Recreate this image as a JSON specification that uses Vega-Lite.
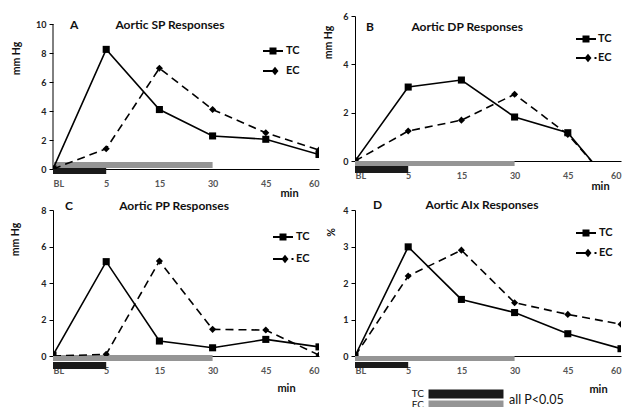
{
  "$schema": "https://vega.github.io/schema/vega-lite/v6.json",
  "padding": {"left": 10, "top": 12, "right": 0, "bottom": 0},
  "background": "white",
  "datasets": {
    "bars": [
      {"t": 0, "group": "TC"}, {"t": 1, "group": "TC"},
      {"t": 0, "group": "EC"}, {"t": 3, "group": "EC"}
    ],
    "A": [
      {"t": 0, "series": "TC", "value": 0}, {"t": 1, "series": "TC", "value": 8.25}, {"t": 2, "series": "TC", "value": 4.1},
      {"t": 3, "series": "TC", "value": 2.28}, {"t": 4, "series": "TC", "value": 2.05}, {"t": 5, "series": "TC", "value": 1.0},
      {"t": 0, "series": "EC", "value": 0}, {"t": 1, "series": "EC", "value": 1.4}, {"t": 2, "series": "EC", "value": 6.95},
      {"t": 3, "series": "EC", "value": 4.1}, {"t": 4, "series": "EC", "value": 2.5}, {"t": 5, "series": "EC", "value": 1.3}
    ],
    "B": [
      {"t": 0, "series": "TC", "value": 0}, {"t": 1, "series": "TC", "value": 3.06}, {"t": 2, "series": "TC", "value": 3.35},
      {"t": 3, "series": "TC", "value": 1.82}, {"t": 4, "series": "TC", "value": 1.17}, {"t": 5, "series": "TC", "value": -1.45},
      {"t": 0, "series": "EC", "value": 0}, {"t": 1, "series": "EC", "value": 1.24}, {"t": 2, "series": "EC", "value": 1.69},
      {"t": 3, "series": "EC", "value": 2.76}, {"t": 4, "series": "EC", "value": 1.1}, {"t": 5, "series": "EC", "value": -1.4}
    ],
    "C": [
      {"t": 0, "series": "TC", "value": 0.05}, {"t": 1, "series": "TC", "value": 5.17}, {"t": 2, "series": "TC", "value": 0.82},
      {"t": 3, "series": "TC", "value": 0.45}, {"t": 4, "series": "TC", "value": 0.91}, {"t": 5, "series": "TC", "value": 0.5},
      {"t": 0, "series": "EC", "value": 0}, {"t": 1, "series": "EC", "value": 0.09}, {"t": 2, "series": "EC", "value": 5.2},
      {"t": 3, "series": "EC", "value": 1.46}, {"t": 4, "series": "EC", "value": 1.42}, {"t": 5, "series": "EC", "value": 0.05}
    ],
    "D": [
      {"t": 0, "series": "TC", "value": 0}, {"t": 1, "series": "TC", "value": 2.99}, {"t": 2, "series": "TC", "value": 1.55},
      {"t": 3, "series": "TC", "value": 1.19}, {"t": 4, "series": "TC", "value": 0.61}, {"t": 5, "series": "TC", "value": 0.2},
      {"t": 0, "series": "EC", "value": 0}, {"t": 1, "series": "EC", "value": 2.19}, {"t": 2, "series": "EC", "value": 2.9},
      {"t": 3, "series": "EC", "value": 1.46}, {"t": 4, "series": "EC", "value": 1.14}, {"t": 5, "series": "EC", "value": 0.87}
    ]
  },
  "columns": 2,
  "spacing": {"row": 41, "column": 36},
  "bounds": "flush",
  "resolve": {"scale": {"x": "independent", "y": "independent", "shape": "independent", "fill": "independent"}, "legend": {"shape": "independent", "fill": "independent"}, "axis": {"x": "independent", "y": "independent"}},
  "concat": [
    {
      "width": 266, "height": 153,
      "title": {"text": "A\u00a0\u00a0\u00a0\u00a0\u00a0\u00a0\u00a0\u00a0\u00a0\u00a0\u00a0\u00a0\u00a0Aortic SP Responses", "dx": 17, "offset": -16},
      "encoding": {
        "x": {"field": "t", "type": "quantitative", "scale": {"domain": [0, 5], "nice": false, "zero": false},
              "axis": {"title": "min", "titleX": 236, "titleY": 24, "values": [0, 1, 2, 3, 4, 5], "labelExpr": "['BL','5','15','30','45','60'][datum.value]",
                       "encode": {"labels": {"update": {"dx": {"signal": "datum.value === 0 ? 7 : 0"}}}}}}
      },
      "layer": [
        {"data": {"name": "bars"}, "mark": {"type": "rule", "color": "#000", "strokeWidth": 1},
         "transform": [{"filter": "datum.group === 'TC' && datum.t === 0"}],
         "encoding": {"x": {"datum": 0, "type": "quantitative"}, "y": {"datum": 0, "type": "quantitative", "scale": {"domain": [0, 10.552], "nice": false}, "axis": {"title": "mm Hg", "values": [0, 2, 4, 6, 8, 10], "domain": false, "titleX": -37, "titleY": 42}}, "y2": {"datum": 10}}},
        {"data": {"name": "bars"}, "transform": [{"filter": "datum.group === 'EC'"}],
         "mark": {"type": "line", "color": "#959595", "strokeWidth": 6, "strokeCap": "butt"},
         "encoding": {"y": {"datum": 0.276, "type": "quantitative", "scale": {"domain": [0, 10.552], "nice": false}, "axis": {"title": "mm Hg", "values": [0, 2, 4, 6, 8, 10], "domain": false, "titleX": -37, "titleY": 42}}}},
        {"data": {"name": "bars"}, "transform": [{"filter": "datum.group === 'TC'"}],
         "mark": {"type": "line", "color": "#1a1a1a", "strokeWidth": 6, "strokeCap": "butt"},
         "encoding": {"y": {"datum": -0.138, "type": "quantitative", "scale": {"domain": [0, 10.552], "nice": false}, "axis": {"title": "mm Hg", "values": [0, 2, 4, 6, 8, 10], "domain": false, "titleX": -37, "titleY": 42}}}},
        {"data": {"name": "A"}, "transform": [{"filter": "datum.series === 'TC'"}], "mark": {"type": "line", "color": "#000", "strokeWidth": 1.6, "clip": true},
         "encoding": {"y": {"field": "value", "type": "quantitative", "scale": {"domain": [0, 10.552], "nice": false}, "axis": {"title": "mm Hg", "values": [0, 2, 4, 6, 8, 10], "domain": false, "titleX": -37, "titleY": 42}}}},
        {"data": {"name": "A"}, "transform": [{"filter": "datum.series === 'EC'"}], "mark": {"type": "line", "color": "#000", "strokeWidth": 1.6, "strokeDash": [8, 5], "clip": true},
         "encoding": {"y": {"field": "value", "type": "quantitative", "scale": {"domain": [0, 10.552], "nice": false}, "axis": {"title": "mm Hg", "values": [0, 2, 4, 6, 8, 10], "domain": false, "titleX": -37, "titleY": 42}}}},
        {"data": {"name": "A"}, "transform": [{"filter": "datum.series === 'TC'"}], "mark": {"type": "point", "shape": "square", "filled": true, "color": "#000", "opacity": 1, "size": 50, "clip": true},
         "encoding": {"y": {"field": "value", "type": "quantitative", "scale": {"domain": [0, 10.552], "nice": false}, "axis": {"title": "mm Hg", "values": [0, 2, 4, 6, 8, 10], "domain": false, "titleX": -37, "titleY": 42}}}},
        {"data": {"name": "A"}, "transform": [{"filter": "datum.series === 'EC'"}], "mark": {"type": "point", "shape": "diamond", "filled": true, "color": "#000", "opacity": 1, "size": 50, "clip": true},
         "encoding": {"y": {"field": "value", "type": "quantitative", "scale": {"domain": [0, 10.552], "nice": false}, "axis": {"title": "mm Hg", "values": [0, 2, 4, 6, 8, 10], "domain": false, "titleX": -37, "titleY": 42}}}},
        {"data": {"name": "A"}, "mark": {"type": "point", "filled": true, "color": "#000", "opacity": 0},
         "encoding": {"y": {"field": "value", "type": "quantitative", "scale": {"domain": [0, 10.552], "nice": false}, "axis": {"title": "mm Hg", "values": [0, 2, 4, 6, 8, 10], "domain": false, "titleX": -37, "titleY": 42}},
           "shape": {"field": "series", "type": "nominal", "scale": {"domain": ["EC", "TC"], "range": ["M-1,-0.1H0.35V0.1H-1Z M0.2,-0.42L0.55,0L0.2,0.42L-0.15,0Z", "M-1,-0.1H1V0.1H-1Z M-0.35,-0.35H0.35V0.35H-0.35Z"]},
           "legend": {"orient": "none", "legendX": 210, "legendY": 25, "values": ["TC", "EC"], "title": null, "symbolSize": 400, "symbolOpacity": 1, "symbolFillColor": "#000", "symbolStrokeWidth": 0, "rowPadding": 5, "padding": 0,
             "labelFont": "Lato", "labelFontSize": 11, "labelFontWeight": "bold", "labelColor": "#111", "labelOffset": 3}}}}
      ]
    },
    {
      "width": 266, "height": 145,
      "title": {"text": "B\u00a0\u00a0\u00a0\u00a0\u00a0\u00a0\u00a0\u00a0\u00a0\u00a0\u00a0\u00a0\u00a0Aortic DP Responses", "dx": 11, "offset": -22},
      "encoding": {
        "x": {"field": "t", "type": "quantitative", "scale": {"domain": [0, 5], "nice": false, "zero": false},
              "axis": {"title": "min", "titleX": 245, "titleY": 25, "values": [0, 1, 2, 3, 4, 5], "labelExpr": "['BL','5','15','30','45','60'][datum.value]",
                       "encode": {"labels": {"update": {"dx": {"signal": "datum.value === 0 ? 7 : (datum.value === 5 ? 4 : 0)"}}}}}}
      },
      "layer": [
        {"data": {"name": "bars"}, "transform": [{"filter": "datum.group === 'EC'"}],
         "mark": {"type": "line", "color": "#959595", "strokeWidth": 5, "strokeCap": "butt"},
         "encoding": {"y": {"datum": -0.103, "type": "quantitative", "scale": {"domain": [0, 6], "nice": false}, "axis": {"title": "mm Hg", "values": [0, 2, 4, 6], "titleX": -27, "titleY": 26}}}},
        {"data": {"name": "bars"}, "transform": [{"filter": "datum.group === 'TC'"}],
         "mark": {"type": "line", "color": "#1a1a1a", "strokeWidth": 7, "strokeCap": "butt"},
         "encoding": {"y": {"datum": -0.352, "type": "quantitative", "scale": {"domain": [0, 6], "nice": false}, "axis": {"title": "mm Hg", "values": [0, 2, 4, 6], "titleX": -27, "titleY": 26}}}},
        {"data": {"name": "B"}, "transform": [{"filter": "datum.series === 'TC'"}], "mark": {"type": "line", "color": "#000", "strokeWidth": 1.6, "clip": true},
         "encoding": {"y": {"field": "value", "type": "quantitative", "scale": {"domain": [0, 6], "nice": false}, "axis": {"title": "mm Hg", "values": [0, 2, 4, 6], "titleX": -27, "titleY": 26}}}},
        {"data": {"name": "B"}, "transform": [{"filter": "datum.series === 'EC'"}], "mark": {"type": "line", "color": "#000", "strokeWidth": 1.6, "strokeDash": [8, 5], "clip": true},
         "encoding": {"y": {"field": "value", "type": "quantitative", "scale": {"domain": [0, 6], "nice": false}, "axis": {"title": "mm Hg", "values": [0, 2, 4, 6], "titleX": -27, "titleY": 26}}}},
        {"data": {"name": "B"}, "transform": [{"filter": "datum.series === 'TC'"}], "mark": {"type": "point", "shape": "square", "filled": true, "color": "#000", "opacity": 1, "size": 50, "clip": true},
         "encoding": {"y": {"field": "value", "type": "quantitative", "scale": {"domain": [0, 6], "nice": false}, "axis": {"title": "mm Hg", "values": [0, 2, 4, 6], "titleX": -27, "titleY": 26}}}},
        {"data": {"name": "B"}, "transform": [{"filter": "datum.series === 'EC'"}], "mark": {"type": "point", "shape": "diamond", "filled": true, "color": "#000", "opacity": 1, "size": 50, "clip": true},
         "encoding": {"y": {"field": "value", "type": "quantitative", "scale": {"domain": [0, 6], "nice": false}, "axis": {"title": "mm Hg", "values": [0, 2, 4, 6], "titleX": -27, "titleY": 26}}}},
        {"data": {"name": "B"}, "mark": {"type": "point", "filled": true, "color": "#000", "opacity": 0, "clip": true},
         "encoding": {"y": {"field": "value", "type": "quantitative", "scale": {"domain": [0, 6], "nice": false}, "axis": {"title": "mm Hg", "values": [0, 2, 4, 6], "titleX": -27, "titleY": 26}},
           "shape": {"field": "series", "type": "nominal", "scale": {"domain": ["EC", "TC"], "range": ["M-1,-0.1H0.35V0.1H-1Z M0.2,-0.42L0.55,0L0.2,0.42L-0.15,0Z M0.85,-0.1H1.05V0.1H0.85Z", "M-1,-0.1H1V0.1H-1Z M-0.35,-0.35H0.35V0.35H-0.35Z"]},
           "legend": {"orient": "none", "legendX": 221, "legendY": 13, "values": ["TC", "EC"], "title": null, "symbolSize": 400, "symbolOpacity": 1, "symbolFillColor": "#000", "symbolStrokeWidth": 0, "rowPadding": 4, "padding": 0,
             "labelFont": "Lato", "labelFontSize": 11, "labelFontWeight": "bold", "labelColor": "#111", "labelOffset": 2}}}}
      ]
    },
    {
      "width": 266, "height": 146,
      "title": {"text": "C\u00a0\u00a0\u00a0\u00a0\u00a0\u00a0\u00a0\u00a0\u00a0\u00a0\u00a0\u00a0\u00a0\u00a0\u00a0\u00a0Aortic PP Responses", "dx": 12, "offset": -7},
      "encoding": {
        "x": {"field": "t", "type": "quantitative", "scale": {"domain": [0, 5], "nice": false, "zero": false},
              "axis": {"title": "min", "titleX": 233, "titleY": 32, "values": [0, 1, 2, 3, 4, 5], "labelExpr": "['BL','5','15','30','45','60'][datum.value]",
                       "encode": {"labels": {"update": {"dx": {"signal": "datum.value === 0 ? 8 : 0"}}}}}}
      },
      "layer": [
        {"data": {"name": "bars"}, "transform": [{"filter": "datum.group === 'EC'"}],
         "mark": {"type": "line", "color": "#959595", "strokeWidth": 6, "strokeCap": "butt"},
         "encoding": {"y": {"datum": -0.11, "type": "quantitative", "scale": {"domain": [0, 8], "nice": false}, "axis": {"title": "mm Hg", "values": [0, 2, 4, 6, 8], "titleX": -38, "titleY": 29}}}},
        {"data": {"name": "bars"}, "transform": [{"filter": "datum.group === 'TC'"}],
         "mark": {"type": "line", "color": "#1a1a1a", "strokeWidth": 7, "strokeCap": "butt"},
         "encoding": {"y": {"datum": -0.52, "type": "quantitative", "scale": {"domain": [0, 8], "nice": false}, "axis": {"title": "mm Hg", "values": [0, 2, 4, 6, 8], "titleX": -38, "titleY": 29}}}},
        {"data": {"name": "C"}, "transform": [{"filter": "datum.series === 'TC'"}], "mark": {"type": "line", "color": "#000", "strokeWidth": 1.6, "clip": true},
         "encoding": {"y": {"field": "value", "type": "quantitative", "scale": {"domain": [0, 8], "nice": false}, "axis": {"title": "mm Hg", "values": [0, 2, 4, 6, 8], "titleX": -38, "titleY": 29}}}},
        {"data": {"name": "C"}, "transform": [{"filter": "datum.series === 'EC'"}], "mark": {"type": "line", "color": "#000", "strokeWidth": 1.6, "strokeDash": [8, 5], "clip": true},
         "encoding": {"y": {"field": "value", "type": "quantitative", "scale": {"domain": [0, 8], "nice": false}, "axis": {"title": "mm Hg", "values": [0, 2, 4, 6, 8], "titleX": -38, "titleY": 29}}}},
        {"data": {"name": "C"}, "transform": [{"filter": "datum.series === 'TC'"}], "mark": {"type": "point", "shape": "square", "filled": true, "color": "#000", "opacity": 1, "size": 50, "clip": true},
         "encoding": {"y": {"field": "value", "type": "quantitative", "scale": {"domain": [0, 8], "nice": false}, "axis": {"title": "mm Hg", "values": [0, 2, 4, 6, 8], "titleX": -38, "titleY": 29}}}},
        {"data": {"name": "C"}, "transform": [{"filter": "datum.series === 'EC'"}], "mark": {"type": "point", "shape": "diamond", "filled": true, "color": "#000", "opacity": 1, "size": 50, "clip": true},
         "encoding": {"y": {"field": "value", "type": "quantitative", "scale": {"domain": [0, 8], "nice": false}, "axis": {"title": "mm Hg", "values": [0, 2, 4, 6, 8], "titleX": -38, "titleY": 29}}}},
        {"data": {"name": "C"}, "mark": {"type": "point", "filled": true, "color": "#000", "opacity": 0},
         "encoding": {"y": {"field": "value", "type": "quantitative", "scale": {"domain": [0, 8], "nice": false}, "axis": {"title": "mm Hg", "values": [0, 2, 4, 6, 8], "titleX": -38, "titleY": 29}},
           "shape": {"field": "series", "type": "nominal", "scale": {"domain": ["EC", "TC"], "range": ["M-1,-0.1H0.35V0.1H-1Z M0.2,-0.42L0.55,0L0.2,0.42L-0.15,0Z M0.85,-0.1H1.05V0.1H0.85Z", "M-1,-0.1H1V0.1H-1Z M-0.35,-0.35H0.35V0.35H-0.35Z"]},
           "legend": {"orient": "none", "legendX": 220, "legendY": 17, "values": ["TC", "EC"], "title": null, "symbolSize": 400, "symbolOpacity": 1, "symbolFillColor": "#000", "symbolStrokeWidth": 0, "rowPadding": 7, "padding": 0,
             "labelFont": "Lato", "labelFontSize": 11, "labelFontWeight": "bold", "labelColor": "#111", "labelOffset": 3}}}}
      ]
    },
    {
      "width": 266, "height": 146,
      "title": {"text": "D\u00a0\u00a0\u00a0\u00a0\u00a0\u00a0\u00a0\u00a0\u00a0\u00a0\u00a0\u00a0\u00a0\u00a0\u00a0Aortic AIx Responses", "dx": 18, "offset": -6},
      "encoding": {
        "x": {"field": "t", "type": "quantitative", "scale": {"domain": [0, 5], "nice": false, "zero": false},
              "axis": {"title": "min", "titleX": 243, "titleY": 33, "values": [0, 1, 2, 3, 4, 5], "labelExpr": "['BL','5','15','30','45','60'][datum.value]",
                       "encode": {"labels": {"update": {"dx": {"signal": "datum.value === 0 ? 9 : 0"}}}}}}
      },
      "layer": [
        {"data": {"name": "bars"}, "transform": [{"filter": "datum.group === 'EC'"}],
         "mark": {"type": "line", "color": "#959595", "strokeWidth": 5, "strokeCap": "butt"},
         "encoding": {"y": {"datum": -0.068, "type": "quantitative", "scale": {"domain": [0, 4], "nice": false}, "axis": {"title": "%", "values": [0, 1, 2, 3, 4], "titleX": -24, "titleY": 22}}}},
        {"data": {"name": "bars"}, "transform": [{"filter": "datum.group === 'TC'"}],
         "mark": {"type": "line", "color": "#1a1a1a", "strokeWidth": 6, "strokeCap": "butt"},
         "encoding": {"y": {"datum": -0.247, "type": "quantitative", "scale": {"domain": [0, 4], "nice": false}, "axis": {"title": "%", "values": [0, 1, 2, 3, 4], "titleX": -24, "titleY": 22}}}},
        {"data": {"name": "bars"}, "mark": {"type": "point", "shape": "square", "opacity": 0, "filled": true},
         "encoding": {"y": {"datum": 0, "type": "quantitative", "scale": {"domain": [0, 4], "nice": false}, "axis": {"title": "%", "values": [0, 1, 2, 3, 4], "titleX": -24, "titleY": 22}},
                      "fill": {"field": "group", "type": "nominal", "scale": {"domain": ["TC", "EC"], "range": ["#1a1a1a", "#959595"]},
                        "legend": {"orient": "none", "legendX": 106, "legendY": 179, "title": "all P<0.05", "titleOrient": "right", "titleFont": "Lato", "titleFontSize": 12.5, "titleFontWeight": "normal", "titleColor": "#111", "titleBaseline": "middle", "titlePadding": 6,
                          "symbolType": "M-8.33,-1H8.33V1H-8.33Z", "symbolSize": 81, "symbolOpacity": 1, "rowPadding": 1, "padding": 0, "symbolStrokeWidth": 0,
                          "labelFont": "Lato", "labelFontSize": 10, "labelColor": "#111", "labelAlign": "right", "labelOffset": -47}}}},
        {"data": {"name": "D"}, "transform": [{"filter": "datum.series === 'TC'"}], "mark": {"type": "line", "color": "#000", "strokeWidth": 1.6, "clip": true},
         "encoding": {"y": {"field": "value", "type": "quantitative", "scale": {"domain": [0, 4], "nice": false}, "axis": {"title": "%", "values": [0, 1, 2, 3, 4], "titleX": -24, "titleY": 22}}}},
        {"data": {"name": "D"}, "transform": [{"filter": "datum.series === 'EC'"}], "mark": {"type": "line", "color": "#000", "strokeWidth": 1.6, "strokeDash": [8, 5], "clip": true},
         "encoding": {"y": {"field": "value", "type": "quantitative", "scale": {"domain": [0, 4], "nice": false}, "axis": {"title": "%", "values": [0, 1, 2, 3, 4], "titleX": -24, "titleY": 22}}}},
        {"data": {"name": "D"}, "transform": [{"filter": "datum.series === 'TC'"}], "mark": {"type": "point", "shape": "square", "filled": true, "color": "#000", "opacity": 1, "size": 50, "clip": true},
         "encoding": {"y": {"field": "value", "type": "quantitative", "scale": {"domain": [0, 4], "nice": false}, "axis": {"title": "%", "values": [0, 1, 2, 3, 4], "titleX": -24, "titleY": 22}}}},
        {"data": {"name": "D"}, "transform": [{"filter": "datum.series === 'EC'"}], "mark": {"type": "point", "shape": "diamond", "filled": true, "color": "#000", "opacity": 1, "size": 50, "clip": true},
         "encoding": {"y": {"field": "value", "type": "quantitative", "scale": {"domain": [0, 4], "nice": false}, "axis": {"title": "%", "values": [0, 1, 2, 3, 4], "titleX": -24, "titleY": 22}}}},
        {"data": {"name": "D"}, "mark": {"type": "point", "filled": true, "color": "#000", "opacity": 0},
         "encoding": {"y": {"field": "value", "type": "quantitative", "scale": {"domain": [0, 4], "nice": false}, "axis": {"title": "%", "values": [0, 1, 2, 3, 4], "titleX": -24, "titleY": 22}},
           "shape": {"field": "series", "type": "nominal", "scale": {"domain": ["EC", "TC"], "range": ["M-1,-0.1H0.35V0.1H-1Z M0.2,-0.42L0.55,0L0.2,0.42L-0.15,0Z M0.85,-0.1H1.05V0.1H0.85Z", "M-1,-0.1H1V0.1H-1Z M-0.35,-0.35H0.35V0.35H-0.35Z"]},
           "legend": {"orient": "none", "legendX": 221, "legendY": 13, "values": ["TC", "EC"], "title": null, "symbolSize": 400, "symbolOpacity": 1, "symbolFillColor": "#000", "symbolStrokeWidth": 0, "rowPadding": 5, "padding": 0,
             "labelFont": "Lato", "labelFontSize": 11, "labelFontWeight": "bold", "labelColor": "#111", "labelOffset": 3}}}}
      ]
    }
  ],
  "config": {
    "view": {"stroke": null},
    "font": "Lato",
    "axis": {"domainColor": "#000", "domainWidth": 1, "grid": false, "labelFont": "Lato", "labelFontWeight": "bold", "titleFont": "Lato", "titleFontWeight": "bold", "titleColor": "#111"},
    "axisX": {"ticks": false, "labelPadding": 10, "labelFontSize": 9, "labelColor": "#555", "labelAngle": 0, "titleFontSize": 11, "titleAlign": "center", "titleBaseline": "middle", "titleAngle": 0},
    "axisY": {"ticks": true, "tickSize": 4, "tickColor": "#000", "labelPadding": 3, "labelFontSize": 9, "labelColor": "#222", "titleFontSize": 10.5, "titleAngle": -90, "titleAlign": "center", "titleBaseline": "middle"},
    "title": {"anchor": "start", "frame": "group", "font": "Lato", "fontSize": 12, "fontWeight": "bold", "color": "#111", "baseline": "alphabetic"}
  }
}
